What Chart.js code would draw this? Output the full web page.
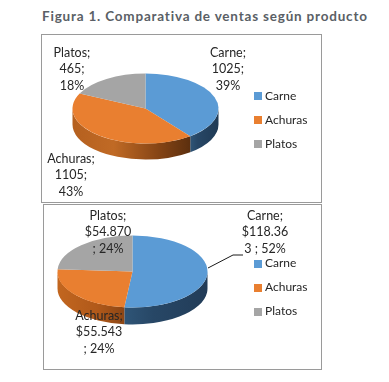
<!DOCTYPE html>
<html><head><meta charset="utf-8">
<script src="https://cdn.jsdelivr.net/npm/chart.js@4"></script>
<style>
html,body{margin:0;padding:0;background:#fff;width:389px;height:382px;overflow:hidden}
#title{position:absolute;left:42px;top:8px;width:340px;font:bold 13.5px Lato,sans-serif;letter-spacing:.8px;color:#5a5f66;white-space:nowrap}
.frame{position:absolute;box-sizing:border-box;border:1px solid #9a9a9a;background:#fff}
canvas{display:block}
</style></head><body>
<div id="title">Figura 1. Comparativa de ventas según producto</div>
<div class="frame" style="left:41px;top:34px;width:281px;height:169px"><canvas id="c1" width="279" height="167"></canvas></div>
<div class="frame" style="left:43px;top:204px;width:279px;height:166px"><canvas id="c2" width="277" height="164"></canvas></div>
<script>
const categories = ['Carne','Achuras','Platos'];
const unitsValues = [1025,1105,465];
const moneyValues = [118363,55543,54870];
const unitsLabels = [['Carne;','1025;','39%'],['Achuras;','1105;','43%'],['Platos;','465;','18%']];
const moneyLabels = [['Carne;','$118.36','3 ; 52%'],['Achuras;','$55.543','; 24%'],['Platos;','$54.870','; 24%']];
const sliceColors = ['#5b9bd5','#e97f30','#a5a5a5'];

const sideStops = [
  [[0,'#2f5577'],[0.25,'#274766'],[1,'#1f3a55']],
  [[0,'#b5601f'],[0.35,'#c06a25'],[0.7,'#8a4716'],[1,'#5c2f0e']],
  [[0,'#7c7c7c'],[1,'#5c5c5c']]
];

function swatch(color){
  const s = document.createElement('canvas');
  s.width = 8; s.height = 8;
  const x = s.getContext('2d');
  x.fillStyle = color; x.fillRect(0,0,8,8);
  return s;
}

const tilt = {
  id:'tilt',
  beforeDatasetsDraw(chart,args,o){
    const arcs = chart.getDatasetMeta(0).data;
    const c = chart.ctx, a0 = arcs[0], sx = o.rx/a0.outerRadius, sy = o.ry/a0.outerRadius;
    arcs.forEach((a,i)=>{
      const st = Math.max(a.startAngle,0), e = Math.min(a.endAngle,Math.PI);
      if(e<=st) return;
      const x0 = o.cx+o.rx*Math.cos(st), x1 = o.cx+o.rx*Math.cos(e);
      const g = c.createLinearGradient(Math.min(x0,x1),0,Math.max(x0,x1),0);
      o.stops[i].forEach(p=>g.addColorStop(p[0],p[1]));
      c.save();
      c.beginPath();
      c.ellipse(o.cx,o.cy,o.rx,o.ry,0,st,e,false);
      c.ellipse(o.cx,o.cy+o.depth,o.rx,o.ry,0,e,st,true);
      c.closePath();
      c.fillStyle = g; c.fill();
      c.restore();
    });
    c.save();
    c.translate(o.cx,o.cy);
    c.scale(sx,sy);
    c.translate(-a0.x,-a0.y);
  },
  afterDatasetsDraw(chart,args,o){
    const c = chart.ctx;
    c.restore();
    c.save();
    c.font = '12.5px Lato, sans-serif';
    c.fillStyle = '#262626';
    c.textAlign = 'center';
    c.textBaseline = 'middle';
    o.labels.forEach((lines,i)=>{
      lines.forEach((t,j)=>c.fillText(t,o.pos[i][0],o.pos[i][1]+j*16.3));
    });
    if(o.leader){
      c.strokeStyle='#1a1a1a'; c.lineWidth=1;
      c.beginPath();
      o.leader.forEach((p,i)=> i? c.lineTo(p[0],p[1]) : c.moveTo(p[0],p[1]));
      c.stroke();
    }
    c.restore();
  }
};

function makeChart(id,values,tiltOpts,rightPad,topPad){
  return new Chart(document.getElementById(id),{
    type:'pie',
    data:{labels:categories,datasets:[{data:values,backgroundColor:sliceColors,borderWidth:0}]},
    options:{
      responsive:false,animation:false,
      layout:{padding:{right:rightPad,top:topPad,bottom:0}},
      plugins:{
        tooltip:{enabled:false},
        legend:{position:'right',labels:{
          usePointStyle:true,pointStyleWidth:1,boxHeight:8,padding:12,color:'#262626',
          font:{family:'Lato, sans-serif',size:12},
          generateLabels(chart){
            return Chart.overrides.pie.plugins.legend.labels.generateLabels(chart)
              .map(it=>({...it,pointStyle:swatch(it.fillStyle)}));
          }
        }},
        tilt:tiltOpts
      }
    },
    plugins:[tilt]
  });
}
makeChart('c1',unitsValues,{
  cx:103.5,cy:73.5,rx:73,ry:35,depth:16,stops:sideStops,labels:unitsLabels,
  pos:[[186,18],[29,124],[30,18]]
},3.5,3);
makeChart('c2',moneyValues,{
  cx:88.5,cy:66.5,rx:75,ry:36,depth:17,
  stops:[[[0,'#2f5577'],[0.35,'#274766'],[1,'#223c58']],[[0,'#c2661f'],[0.6,'#b0591a'],[1,'#8c4615']],sideStops[2]],
  labels:moneyLabels,pos:[[221,11],[55,111],[64,11]],
  leader:[[164,63],[189,50],[199,50]]
},3.5,1);
</script>
</body></html>
